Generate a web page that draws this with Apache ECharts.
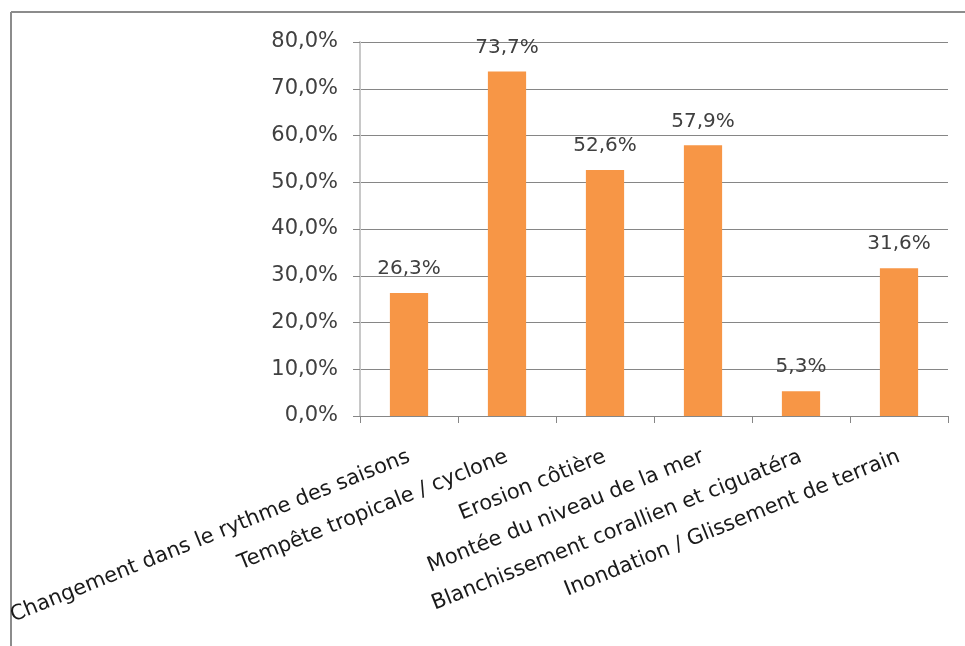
<!DOCTYPE html>
<html>
<head>
<meta charset="utf-8">
<script src="https://cdn.jsdelivr.net/npm/echarts@6/dist/echarts.min.js"></script>
<style>
html,body{margin:0;padding:0;background:#fff;}
#chart{width:965px;height:646px;}
</style>
</head>
<body>
<div id="chart"></div>
<script>
const categories = [
  "Changement dans le rythme des saisons",
  "Tempête tropicale / cyclone",
  "Erosion côtière",
  "Montée du niveau de la mer",
  "Blanchissement corallien et ciguatéra",
  "Inondation / Glissement de terrain"
];
const values = [26.3, 73.7, 52.6, 57.9, 5.3, 31.6];
const yTicks = [0, 10, 20, 30, 40, 50, 60, 70, 80];

const fmt = v => v.toFixed(1).replace('.', ',') + '%';
const FONT = '"DejaVu Sans", sans-serif';

const chart = echarts.init(document.getElementById('chart'), null, {renderer: 'canvas'});
chart.setOption({
  animation: false,
  backgroundColor: '#fff',
  grid: {left: 360, right: 17, top: 42, bottom: 230, containLabel: false},
  xAxis: {
    type: 'category',
    data: categories,
    axisLine: {show: true, lineStyle: {color: '#868686', width: 1}},
    axisTick: {show: true, length: 7, lineStyle: {color: '#868686'}},
    axisLabel: {
      rotate: 22, interval: 0, margin: 40,
      color: '#1a1a1a', fontSize: 21, fontFamily: FONT
    }
  },
  yAxis: {
    type: 'value',
    min: yTicks[0], max: yTicks[yTicks.length - 1], interval: 10,
    axisLine: {show: true, lineStyle: {color: '#c8c8c8', width: 2}},
    axisTick: {show: true, length: 7, lineStyle: {color: '#868686'}},
    splitLine: {show: true, lineStyle: {color: '#868686', width: 1}},
    axisLabel: {
      margin: 22, color: '#404040', fontSize: 21, fontFamily: FONT,
      formatter: v => fmt(v)
    }
  },
  series: [{
    type: 'bar',
    data: values,
    barWidth: '39%',
    itemStyle: {color: '#F79646'},
    label: {
      show: true, position: 'top', distance: 14,
      color: '#404040', fontSize: 20, fontFamily: FONT,
      formatter: p => fmt(p.value)
    }
  }],
  graphic: [
    {type: 'line', shape: {x1: 11, y1: 12, x2: 965, y2: 12}, style: {stroke: '#8c8c8c', lineWidth: 2}},
    {type: 'line', shape: {x1: 11, y1: 12, x2: 11, y2: 646}, style: {stroke: '#8c8c8c', lineWidth: 2}}
  ]
});
</script>
</body>
</html>
